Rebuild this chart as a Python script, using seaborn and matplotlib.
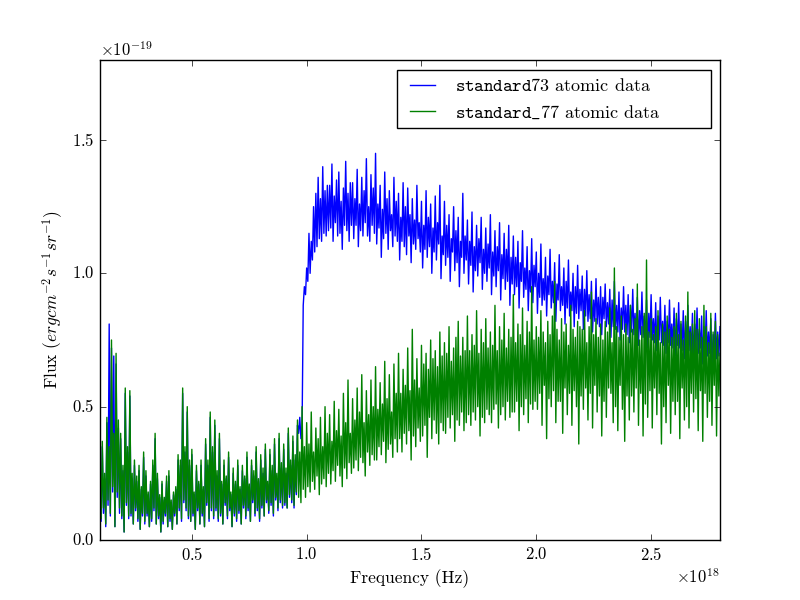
import numpy as np
import pandas as pd
import matplotlib
matplotlib.use("Agg")
import matplotlib.pyplot as plt
import seaborn as sns

# === DATA (flux in units of 1e-19, frequency grid in units of 1e18 Hz) ===
freq_start = 0.10
freq_step = 0.005

green_flux = [
    0.30, 0.08, 0.37, 0.12, 0.25, 0.06, 0.46, 0.15, 0.35, 0.10, 0.75, 0.20, 0.40, 0.05, 0.70, 0.18, 0.45, 0.12, 0.40, 0.09,
    0.28, 0.03, 0.57, 0.14, 0.35, 0.09, 0.56, 0.10, 0.25, 0.06, 0.30, 0.12, 0.24, 0.08, 0.28, 0.04, 0.20, 0.10, 0.33, 0.07,
    0.26, 0.10, 0.18, 0.05, 0.22, 0.08, 0.30, 0.12, 0.40, 0.06, 0.25, 0.09, 0.17, 0.03, 0.22, 0.07, 0.16, 0.10, 0.24, 0.05,
    0.26, 0.08, 0.15, 0.04, 0.18, 0.10, 0.20, 0.06, 0.32, 0.12, 0.30, 0.08, 0.57, 0.15, 0.35, 0.12, 0.50, 0.09, 0.30, 0.07,
    0.34, 0.10, 0.18, 0.04, 0.28, 0.12, 0.22, 0.06, 0.30, 0.10, 0.20, 0.05, 0.38, 0.14, 0.30, 0.08, 0.48, 0.12, 0.35, 0.09,
    0.45, 0.12, 0.26, 0.08, 0.40, 0.10, 0.22, 0.06, 0.30, 0.14, 0.24, 0.09, 0.33, 0.12, 0.18, 0.05, 0.27, 0.10, 0.22, 0.08,
    0.30, 0.11, 0.20, 0.06, 0.28, 0.13, 0.24, 0.09, 0.33, 0.12, 0.21, 0.07, 0.30, 0.15, 0.26, 0.10, 0.35, 0.12, 0.23, 0.08,
    0.32, 0.13, 0.27, 0.09, 0.36, 0.15, 0.22, 0.11, 0.34, 0.14, 0.28, 0.10, 0.38, 0.16, 0.25, 0.12, 0.40, 0.15, 0.29, 0.13,
    0.36, 0.14, 0.27, 0.12, 0.42, 0.17, 0.30, 0.15, 0.39, 0.13, 0.32, 0.18, 0.45, 0.16, 0.33, 0.14, 0.50, 0.19, 0.35, 0.16,
    0.44, 0.20, 0.36, 0.18, 0.48, 0.22, 0.33, 0.19, 0.42, 0.24, 0.38, 0.17, 0.46, 0.21, 0.35, 0.23, 0.50, 0.20, 0.40, 0.25,
    0.47, 0.21, 0.37, 0.26, 0.52, 0.22, 0.41, 0.28, 0.49, 0.24, 0.39, 0.20, 0.55, 0.27, 0.44, 0.23, 0.60, 0.29, 0.40, 0.25,
    0.53, 0.27, 0.45, 0.30, 0.57, 0.26, 0.48, 0.31, 0.62, 0.29, 0.44, 0.24, 0.56, 0.33, 0.47, 0.28, 0.60, 0.32, 0.50, 0.30,
    0.65, 0.30, 0.49, 0.35, 0.59, 0.32, 0.51, 0.37, 0.67, 0.29, 0.53, 0.34, 0.62, 0.36, 0.48, 0.31, 0.66, 0.38, 0.55, 0.33,
    0.70, 0.38, 0.55, 0.33, 0.64, 0.40, 0.58, 0.36, 0.72, 0.41, 0.56, 0.30, 0.79, 0.39, 0.60, 0.35, 0.68, 0.42, 0.57, 0.37,
    0.73, 0.39, 0.66, 0.43, 0.70, 0.31, 0.64, 0.46, 0.75, 0.38, 0.68, 0.45, 0.71, 0.40, 0.65, 0.36, 0.78, 0.44, 0.69, 0.41,
    0.74, 0.40, 0.70, 0.46, 0.80, 0.42, 0.67, 0.47, 0.72, 0.37, 0.76, 0.45, 0.82, 0.43, 0.69, 0.48, 0.76, 0.41, 0.71, 0.44,
    0.84, 0.47, 0.71, 0.43, 0.77, 0.48, 0.73, 0.45, 0.86, 0.50, 0.70, 0.39, 0.79, 0.46, 0.74, 0.44, 0.83, 0.49, 0.72, 0.47,
    0.78, 0.44, 0.73, 0.49, 0.88, 0.51, 0.71, 0.42, 0.80, 0.47, 0.75, 0.50, 0.85, 0.45, 0.72, 0.52, 0.79, 0.46, 0.76, 0.48,
    0.92, 0.48, 0.74, 0.52, 0.81, 0.41, 0.77, 0.50, 0.87, 0.47, 0.73, 0.53, 0.82, 0.44, 0.78, 0.51, 0.95, 0.49, 0.75, 0.52,
    0.80, 0.49, 0.76, 0.55, 0.86, 0.43, 0.78, 0.58, 0.74, 0.38, 0.82, 0.53, 0.77, 0.50, 0.84, 0.56, 0.97, 0.44, 0.79, 0.52,
    0.75, 0.52, 0.83, 0.40, 0.78, 0.57, 0.81, 0.47, 0.73, 0.55, 0.88, 0.43, 0.79, 0.56, 0.76, 0.50, 0.82, 0.36, 0.80, 0.54,
    0.79, 0.49, 0.86, 0.57, 0.74, 0.45, 0.80, 0.55, 0.93, 0.42, 0.77, 0.58, 0.83, 0.48, 0.76, 0.54, 0.81, 0.39, 0.75, 0.52,
    0.82, 0.46, 0.78, 0.57, 0.87, 0.55, 0.74, 0.44, 1.02, 0.50, 0.80, 0.41, 0.76, 0.58, 0.84, 0.49, 0.77, 0.37, 0.81, 0.54,
    0.76, 0.45, 0.88, 0.54, 0.79, 0.48, 0.83, 0.57, 0.96, 0.43, 0.75, 0.55, 0.80, 0.39, 0.85, 0.51, 1.05, 0.46, 0.78, 0.56,
    0.83, 0.42, 0.77, 0.57, 0.80, 0.47, 0.86, 0.55, 0.74, 0.36, 0.81, 0.50, 0.78, 0.44, 0.84, 0.58, 0.79, 0.40, 0.76, 0.52,
    0.80, 0.47, 0.85, 0.52, 0.77, 0.38, 0.82, 0.57, 0.75, 0.45, 0.84, 0.50, 0.93, 0.42, 0.78, 0.55, 0.81, 0.48, 0.86, 0.53,
    0.79, 0.41, 0.83, 0.56, 0.76, 0.37, 0.88, 0.55, 0.80, 0.46, 0.74, 0.52, 0.85, 0.43, 0.78, 0.58, 0.82, 0.39, 0.77, 0.54,
    0.70,
]

blue_flux = [
    0.28, 0.07, 0.35, 0.10, 0.23, 0.05, 0.44, 0.13, 0.81, 0.09, 0.72, 0.18, 0.69, 0.05, 0.66, 0.16, 0.42, 0.10, 0.38, 0.08,
    0.26, 0.03, 0.55, 0.13, 0.33, 0.08, 0.54, 0.09, 0.23, 0.06, 0.28, 0.11, 0.22, 0.07, 0.26, 0.04, 0.19, 0.09, 0.31, 0.06,
    0.24, 0.09, 0.17, 0.05, 0.21, 0.07, 0.28, 0.11, 0.38, 0.06, 0.23, 0.08, 0.16, 0.03, 0.21, 0.06, 0.15, 0.09, 0.22, 0.05,
    0.24, 0.07, 0.14, 0.04, 0.17, 0.09, 0.19, 0.06, 0.30, 0.11, 0.28, 0.07, 0.55, 0.14, 0.33, 0.11, 0.48, 0.08, 0.28, 0.07,
    0.32, 0.09, 0.17, 0.04, 0.26, 0.11, 0.21, 0.06, 0.28, 0.09, 0.19, 0.05, 0.36, 0.13, 0.28, 0.07, 0.46, 0.11, 0.33, 0.08,
    0.43, 0.11, 0.24, 0.07, 0.38, 0.09, 0.21, 0.06, 0.28, 0.13, 0.23, 0.08, 0.31, 0.11, 0.17, 0.05, 0.25, 0.09, 0.21, 0.07,
    0.28, 0.10, 0.19, 0.06, 0.26, 0.12, 0.23, 0.08, 0.31, 0.11, 0.20, 0.07, 0.28, 0.14, 0.24, 0.09, 0.33, 0.11, 0.22, 0.07,
    0.30, 0.12, 0.25, 0.09, 0.34, 0.14, 0.21, 0.10, 0.32, 0.13, 0.26, 0.09, 0.36, 0.15, 0.23, 0.11, 0.38, 0.14, 0.27, 0.12,
    0.34, 0.13, 0.25, 0.12, 0.40, 0.16, 0.28, 0.14, 0.37, 0.12, 0.30, 0.17, 0.43, 0.40, 0.46, 0.38, 0.42, 0.88, 0.95, 0.92,
    1.02, 0.97, 1.15, 1.00, 1.12, 1.05, 1.25, 1.08, 1.30, 1.10, 1.36, 1.13, 1.28, 1.12, 1.40, 1.15, 1.31, 1.14, 1.33, 1.16,
    1.33, 1.17, 1.41, 1.12, 1.29, 1.19, 1.35, 1.14, 1.38, 1.15, 1.27, 1.09, 1.32, 1.18, 1.42, 1.16, 1.30, 1.12, 1.34, 1.18,
    1.34, 1.13, 1.28, 1.18, 1.39, 1.10, 1.26, 1.16, 1.36, 1.14, 1.31, 1.19, 1.43, 1.14, 1.25, 1.12, 1.37, 1.18, 1.32, 1.15,
    1.45, 1.11, 1.26, 1.17, 1.33, 1.06, 1.24, 1.13, 1.38, 1.15, 1.28, 1.09, 1.31, 1.16, 1.22, 1.10, 1.36, 1.14, 1.27, 1.12,
    1.30, 1.05, 1.21, 1.12, 1.34, 1.10, 1.25, 1.07, 1.32, 1.14, 1.22, 1.04, 1.28, 1.11, 1.20, 1.09, 1.33, 1.13, 1.19, 1.08,
    1.27, 1.02, 1.18, 1.09, 1.31, 1.06, 1.21, 1.10, 1.26, 1.00, 1.17, 1.08, 1.29, 1.05, 1.19, 1.11, 1.33, 0.98, 1.14, 1.07,
    1.27, 1.03, 1.18, 1.06, 1.22, 0.97, 1.13, 1.08, 1.25, 1.01, 1.16, 1.04, 1.21, 0.95, 1.12, 1.06, 1.30, 1.00, 1.14, 1.05,
    1.20, 0.96, 1.12, 1.03, 1.23, 0.93, 1.10, 1.01, 1.18, 0.99, 1.13, 1.04, 1.21, 0.94, 1.09, 1.00, 1.17, 0.97, 1.11, 1.02,
    1.22, 0.92, 1.08, 0.99, 1.16, 0.95, 1.10, 1.01, 1.19, 0.90, 1.07, 0.98, 1.15, 0.94, 1.09, 0.97, 1.18, 0.88, 1.06, 0.96,
    1.14, 0.92, 1.06, 0.95, 1.12, 0.87, 1.04, 0.97, 1.16, 0.91, 1.02, 0.94, 1.10, 0.86, 1.01, 0.93, 1.13, 0.89, 1.03, 0.95,
    1.08, 0.85, 1.00, 0.91, 1.11, 0.88, 0.98, 0.90, 1.06, 0.84, 0.99, 0.92, 1.09, 0.87, 0.97, 0.89, 1.04, 0.82, 0.96, 0.90,
    1.07, 0.86, 0.95, 0.88, 1.02, 0.81, 0.97, 0.87, 1.05, 0.84, 0.93, 0.86, 1.00, 0.80, 0.95, 0.85, 1.03, 0.83, 0.94, 0.86,
    0.99, 0.79, 0.94, 0.84, 1.01, 0.82, 0.92, 0.83, 0.97, 0.78, 0.90, 0.82, 0.98, 0.81, 0.91, 0.80, 0.95, 0.77, 0.91, 0.83,
    0.96, 0.80, 0.89, 0.81, 0.94, 0.76, 0.90, 0.80, 0.97, 0.79, 0.88, 0.78, 0.93, 0.75, 0.87, 0.79, 0.95, 0.78, 0.88, 0.77,
    0.92, 0.74, 0.88, 0.78, 0.94, 0.77, 0.85, 0.76, 0.91, 0.73, 0.86, 0.77, 0.93, 0.76, 0.84, 0.75, 0.90, 0.72, 0.85, 0.76,
    0.92, 0.75, 0.83, 0.74, 0.89, 0.71, 0.84, 0.75, 0.91, 0.74, 0.82, 0.73, 0.88, 0.70, 0.82, 0.74, 0.90, 0.73, 0.81, 0.72,
    0.87, 0.69, 0.83, 0.73, 0.89, 0.72, 0.81, 0.71, 0.86, 0.68, 0.82, 0.72, 0.88, 0.71, 0.80, 0.70, 0.85, 0.67, 0.81, 0.71,
    0.87, 0.70, 0.79, 0.72, 0.84, 0.66, 0.80, 0.71, 0.86, 0.69, 0.78, 0.70, 0.83, 0.65, 0.77, 0.70, 0.85, 0.68, 0.78, 0.69,
    0.80,
]

freq = (freq_start + freq_step * np.arange(len(green_flux))) * 1e18

label_73 = r"$\mathtt{standard73}$ atomic data"
label_77 = r"$\mathtt{standard\_77}$ atomic data"
df = pd.DataFrame({
    "freq": np.concatenate([freq, freq]),
    "flux": np.array(blue_flux + green_flux) * 1e-19,
    "series": [label_73] * len(blue_flux) + [label_77] * len(green_flux),
})

# === STYLE ===
plt.style.use("classic")
plt.rcParams["figure.facecolor"] = "white"
plt.rcParams["savefig.facecolor"] = "white"
plt.rcParams["font.family"] = "serif"
plt.rcParams["font.serif"] = ["cmr10", "DejaVu Serif"]
plt.rcParams["mathtext.fontset"] = "cm"
plt.rcParams["axes.formatter.use_mathtext"] = True
plt.rcParams["axes.unicode_minus"] = False

# === PLOT ===
fig, ax = plt.subplots(figsize=(8, 6), dpi=100)
sns.lineplot(data=df, x="freq", y="flux", hue="series",
             palette=["blue", "green"], linewidth=1.0,
             estimator=None, sort=False, ax=ax)

ax.set_xlim(0.1e18, 2.8e18)
ax.set_ylim(0, 1.8e-19)
ax.set_xticks([0.5e18, 1.0e18, 1.5e18, 2.0e18, 2.5e18])
ax.set_yticks([0, 0.5e-19, 1.0e-19, 1.5e-19])
ax.set_xlabel("Frequency (Hz)", fontsize=12.5)
ax.set_ylabel(r"Flux $(ergcm^{-2}s^{-1}sr^{-1})$", fontsize=12.5)
ax.legend(loc="upper right", fancybox=False, title=None, fontsize=13,
          bbox_to_anchor=(0.479, 0.85, 0.506, 0.129), mode="expand",
          borderaxespad=0.0)

fig.savefig("out.png", dpi=100)
